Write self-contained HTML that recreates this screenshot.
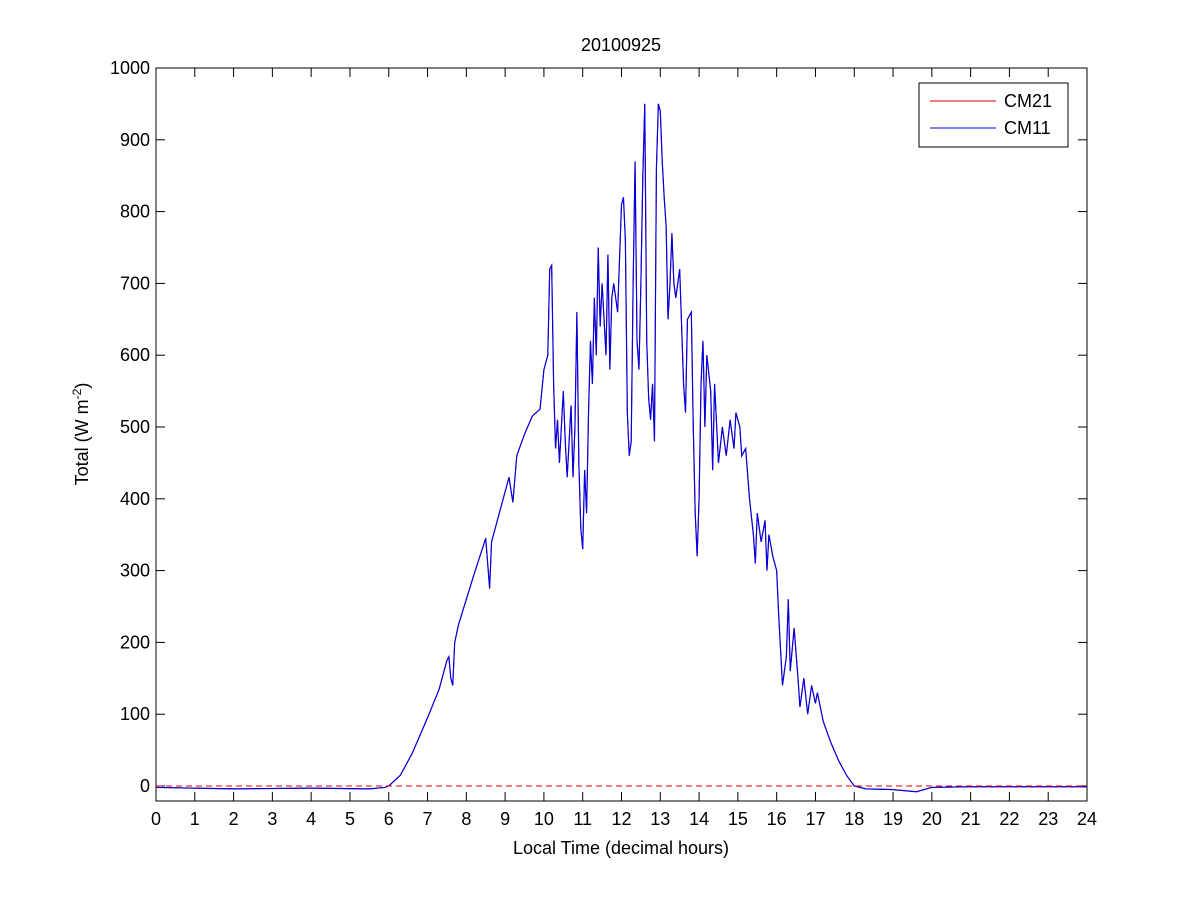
<!DOCTYPE html>
<html><head><meta charset="utf-8"><style>
body{margin:0;background:#fff;}
svg text{font-family:"Liberation Sans",sans-serif;}
</style></head><body>
<svg id="chart" width="1201" height="900" xmlns="http://www.w3.org/2000/svg">
<rect width="1201" height="900" fill="#fff"/>
<g id="g"></g>
</svg>
<script>
const hours=[0,2,4,5.5,5.9,6.0,6.3,6.6,7.0,7.3,7.5,7.55,7.6,7.65,7.7,7.8,8.0,8.2,8.35,8.5,8.55,8.6,8.65,8.8,9.0,9.1,9.2,9.3,9.5,9.7,9.9,10.0,10.1,10.15,10.2,10.25,10.3,10.35,10.4,10.45,10.5,10.55,10.6,10.7,10.75,10.8,10.85,10.9,10.95,11.0,11.05,11.1,11.15,11.2,11.25,11.3,11.35,11.4,11.45,11.5,11.6,11.65,11.7,11.75,11.8,11.9,12.0,12.05,12.1,12.15,12.2,12.25,12.3,12.35,12.4,12.45,12.5,12.55,12.6,12.65,12.7,12.75,12.8,12.85,12.9,12.95,13.0,13.05,13.1,13.15,13.2,13.25,13.3,13.35,13.4,13.5,13.55,13.6,13.65,13.7,13.8,13.85,13.9,13.95,14.0,14.05,14.1,14.15,14.2,14.3,14.35,14.4,14.5,14.6,14.7,14.8,14.9,14.95,15.05,15.1,15.2,15.3,15.4,15.45,15.5,15.6,15.7,15.75,15.8,15.9,16.0,16.05,16.1,16.15,16.25,16.3,16.35,16.45,16.55,16.6,16.7,16.8,16.9,17.0,17.05,17.2,17.4,17.6,17.8,18.0,18.3,19.0,19.6,20.0,21,24];
const cm11=[-2,-4,-3,-4,-2,0,15,45,95,135,175,180,150,140,200,225,260,295,320,345,310,275,340,370,410,430,395,460,490,515,525,580,600,720,725,560,470,510,450,500,550,480,430,530,430,500,660,450,360,330,440,380,520,620,560,680,600,750,640,700,600,740,580,680,700,660,810,820,760,520,460,480,700,870,620,580,700,850,950,620,540,510,560,480,860,950,940,870,820,780,650,700,770,700,680,720,640,560,520,650,660,500,380,320,400,560,620,500,600,550,440,560,450,500,460,510,470,520,500,460,470,400,350,310,380,340,370,300,350,320,300,240,190,140,180,260,160,220,150,110,150,100,140,115,130,90,60,35,15,0,-4,-5,-8,-2,-1,-1];
const cm21=cm11.slice();
const xTicks=[0,1,2,3,4,5,6,7,8,9,10,11,12,13,14,15,16,17,18,19,20,21,22,23,24];
const yTicks=[0,100,200,300,400,500,600,700,800,900,1000];
const L=156,R=1087,T=68,B=801;
const X=h=>L+h/24*(R-L);
const Y=v=>786-v*0.718;
const g=document.getElementById('g');
const NS='http://www.w3.org/2000/svg';
function mk(t,a,txt){const e=document.createElementNS(NS,t);for(const k in a)e.setAttribute(k,a[k]);if(txt!==undefined)e.textContent=txt;g.appendChild(e);return e;}
let e;
e=mk('rect',{x:L,y:T,width:R-L,height:B-T,fill:'none',stroke:'#000','stroke-width':1});


xTicks.forEach(t=>{const x=X(t);
 e=mk('line',{x1:x,x2:x,y1:B,y2:B-9,stroke:'#000'});
 
 
 mk('line',{x1:x,x2:x,y1:T,y2:T+9,stroke:'#000'});
 e=mk('text',{x:x,y:B+24,'font-size':18,'text-anchor':'middle'},String(t));
 
 
});
yTicks.forEach(t=>{const y=Y(t);
 e=mk('line',{x1:L,x2:L+9,y1:y,y2:y,stroke:'#000'});
 
 
 mk('line',{x1:R,x2:R-9,y1:y,y2:y,stroke:'#000'});
 e=mk('text',{x:L-6,y:y+6,'font-size':18,'text-anchor':'end'},String(t));
 
 
});
e=mk('polyline',{points:hours.map((h,i)=>X(h)+','+Y(cm21[i])).join(' '),fill:'none',stroke:'#e00000','stroke-width':1});


e=mk('polyline',{points:hours.map((h,i)=>X(h)+','+Y(cm11[i])).join(' '),fill:'none',stroke:'#0000e0','stroke-width':1.2});


e=mk('line',{x1:L,x2:R,y1:Y(0),y2:Y(0),stroke:'#e00000','stroke-dasharray':'6,4'});


e=mk('text',{x:621,y:51,'font-size':18,'text-anchor':'middle'},'20100925');


e=mk('text',{x:621,y:854,'font-size':18,'text-anchor':'middle'},'Local Time (decimal hours)');


e=mk('text',{x:0,y:0,'font-size':18,'text-anchor':'middle',transform:'translate(88,434) rotate(-90)'});
e.innerHTML='Total (W m<tspan dy="-7" font-size="12">-2</tspan><tspan dy="7">)</tspan>';


e=mk('rect',{x:919,y:83,width:149,height:64,fill:'#fff',stroke:'#000'});


mk('line',{x1:930,x2:996,y1:101,y2:101,stroke:'#e00000'});
e=mk('text',{x:1004,y:107,'font-size':18},'CM21');


mk('line',{x1:930,x2:996,y1:128,y2:128,stroke:'#0000e0'});
e=mk('text',{x:1004,y:134,'font-size':18},'CM11');


</script>
</body></html>
